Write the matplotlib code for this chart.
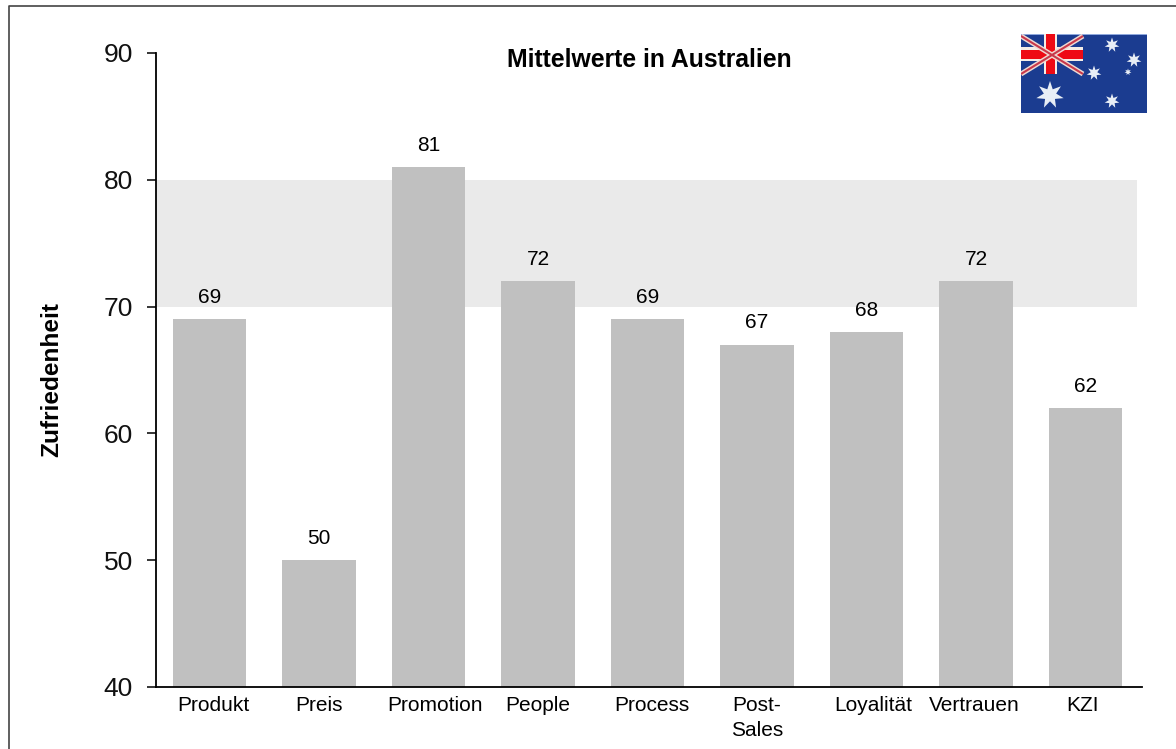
import matplotlib
matplotlib.use("Agg")
import matplotlib.pyplot as plt
from matplotlib.patches import Polygon, Rectangle
from matplotlib.transforms import ScaledTranslation
import numpy as np

plt.rcParams['font.family'] = ['Liberation Sans', 'DejaVu Sans']

categories = ["Produkt", "Preis", "Promotion", "People", "Process", "Post-\nSales", "Loyalität", "Vertrauen", "KZI"]
values = [69, 50, 81, 72, 69, 67, 68, 72, 62]
y_ticks = [40, 50, 60, 70, 80, 90]
band = (70, 80)
label_nudge_px = [4, 0, 6, 0, 4, 0, 7, -2, -3]

W, H = 1176, 749
fig = plt.figure(figsize=(W / 100, H / 100), dpi=100, facecolor="white")


def px_rect(x0, y0, x1, y1):
    return [x0 / W, 1 - y1 / H, (x1 - x0) / W, (y1 - y0) / H]


# outer frame: left and top edges only
frame = fig.add_axes([0, 0, 1, 1], zorder=0)
frame.set_xlim(0, W)
frame.set_ylim(H, 0)
frame.axis("off")
frame.plot([8.5, 8.5, W], [H, 5.8, 5.8], color="#444444", lw=1.2)

ax = fig.add_axes(px_rect(156, 53, 1142, 687), zorder=1)
ax.patch.set_alpha(0)
ax.set_xlim(-0.489, 8.516)
ax.set_ylim(40, 90)
ax.axhspan(band[0], band[1], xmax=0.995, color="#EAEAEA", lw=0, zorder=1)
x = np.arange(len(values))
ax.bar(x, values, width=0.67, color="#C0C0C0", zorder=2)
for xi, v in zip(x, values):
    ax.annotate(str(v), (xi, v), xytext=(0, 15.6), textcoords="offset points",
                ha="center", va="center", fontsize=15, color="black", zorder=3,
                annotation_clip=False)

for s in ("top", "right"):
    ax.spines[s].set_visible(False)
for s in ("left", "bottom"):
    ax.spines[s].set_linewidth(1.3)
ax.set_yticks(y_ticks)
ax.tick_params(axis="y", labelsize=19, length=6.5, width=1.1, pad=10)
ax.set_xticks(x)
ax.set_xticklabels(categories, fontsize=15, linespacing=1.42)
ax.tick_params(axis="x", length=0, pad=6.5)
for lbl in ax.get_yticklabels():
    lbl.set_color("#111111")
for lbl, nudge in zip(ax.get_xticklabels(), label_nudge_px):
    lbl.set_transform(lbl.get_transform() + ScaledTranslation(nudge / 100, 0, fig.dpi_scale_trans))

fig.text(649 / W, 1 - 60 / H, "Mittelwerte in Australien", ha="center", va="center",
         fontsize=17.8, fontweight="bold")
fig.text(52 / W, 1 - 380 / H, "Zufriedenheit", rotation=90, ha="center", va="center",
         fontsize=17.6, fontweight="bold")

# Australian flag built from vector shapes
flag = fig.add_axes(px_rect(1021, 34, 1147, 113), zorder=3)
flag.set_xlim(0, 126)
flag.set_ylim(79, 0)
flag.axis("off")
flag.add_patch(Rectangle((0, 0), 126, 79, color="#1B3C90", lw=0))
flag.add_patch(Rectangle((0, 0), 126, 1, color="#8FA8DC", lw=0))
flag.plot([0, 62], [2, 40], color="#EFD9D2", lw=3.6, solid_capstyle="butt")
flag.plot([0, 62], [40, 2], color="#EFD9D2", lw=3.6, solid_capstyle="butt")
flag.plot([0, 62], [2, 40], color="#C8384A", lw=1.5, solid_capstyle="butt")
flag.plot([0, 62], [40, 2], color="#C8384A", lw=1.5, solid_capstyle="butt")
flag.add_patch(Rectangle((0, 13), 62, 14, color="#F5EDE6", lw=0))
flag.add_patch(Rectangle((23, 0), 13, 40, color="#F5EDE6", lw=0))
flag.add_patch(Rectangle((0, 16), 62, 9, color="#EE0A14", lw=0))
flag.add_patch(Rectangle((25, 0), 9, 40, color="#EE0A14", lw=0))


def star(cx, cy, r, n=7):
    ang = np.arange(2 * n) * np.pi / n - np.pi / 2
    rad = np.where(np.arange(2 * n) % 2 == 0, r, r * 0.45)
    pts = np.c_[cx + rad * np.cos(ang), cy + rad * np.sin(ang)]
    flag.add_patch(Polygon(pts, closed=True, color="#E8EEF6", lw=0))


star(29, 61, 14)
star(91, 11, 7.5)
star(113, 26, 7.5)
star(73, 39, 7.5)
star(107, 38, 3.5)
star(91, 67, 7.5)

fig.savefig("out.png", dpi=100)
